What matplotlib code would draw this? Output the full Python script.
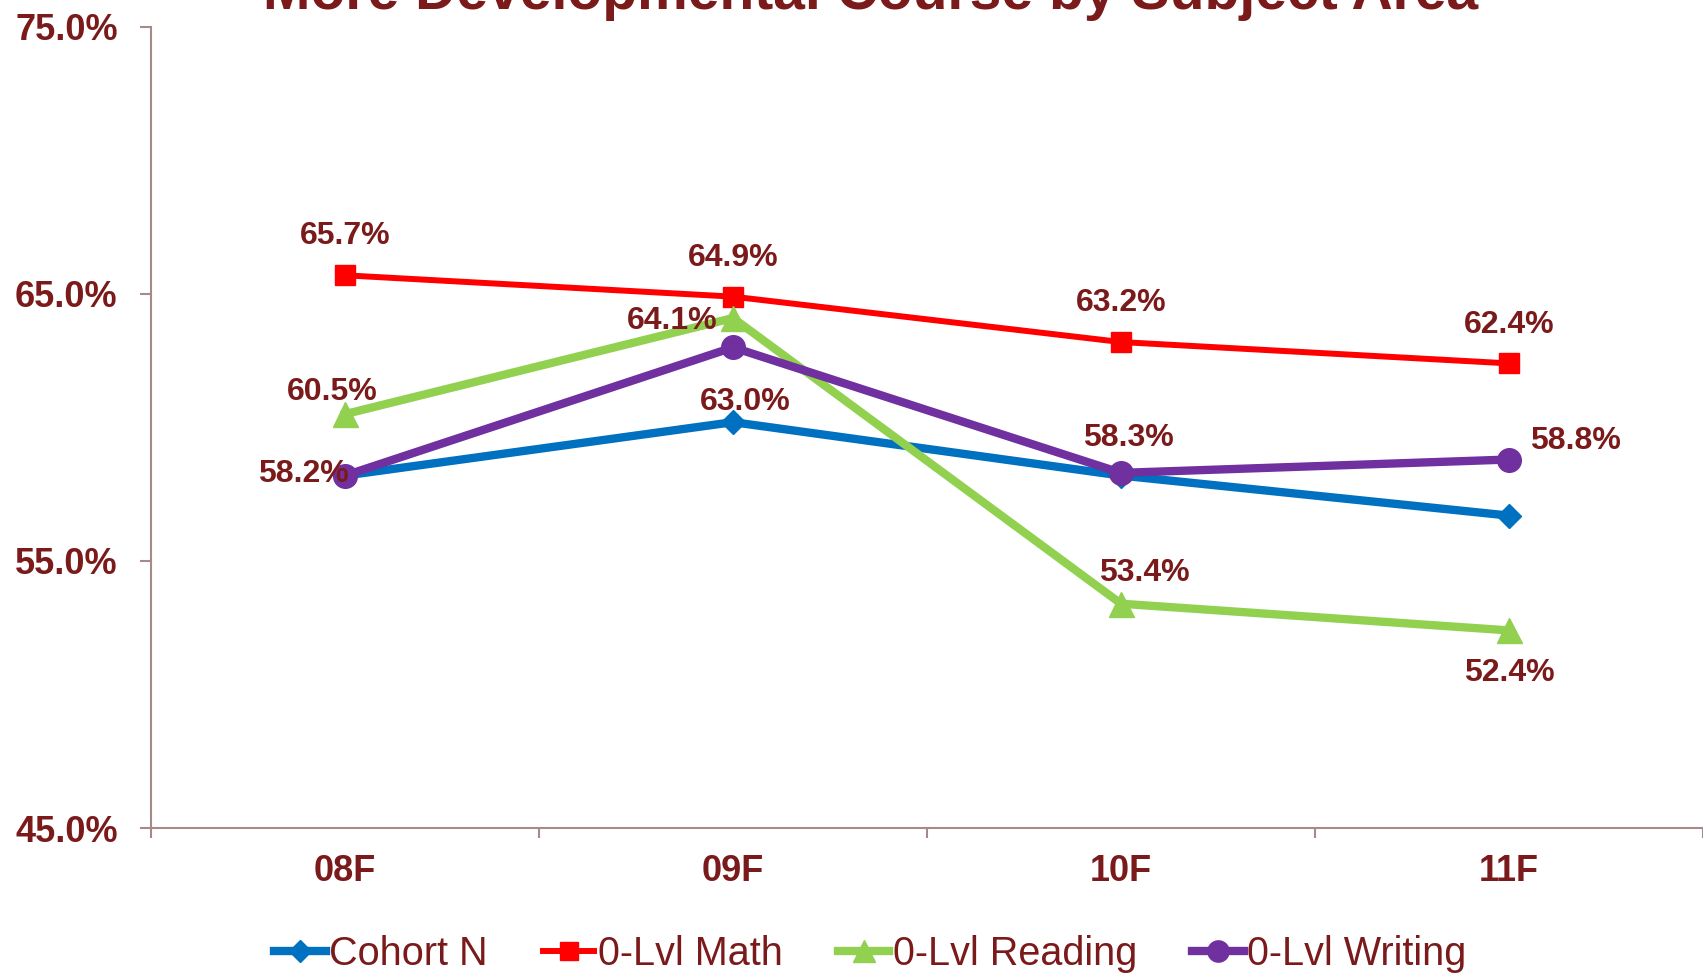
import matplotlib.pyplot as plt
from matplotlib.ticker import FixedLocator

plt.rcParams['font.family'] = ['Liberation Sans', 'DejaVu Sans']

# data
terms = ['08F', '09F', '10F', '11F']
cohort_n = [58.2, 60.2, 58.2, 56.7]
math_0 = [65.7, 64.9, 63.2, 62.4]
reading_0 = [60.5, 64.1, 53.4, 52.4]
writing_0 = [58.2, 63.0, 58.3, 58.8]
y_ticks = [45, 55, 65, 75]

# label offsets in points (dx, dy) for the data labels
math_offsets = [(0, 28), (0, 28), (0, 28), (0, 28)]
reading_offsets = [(-9, 16), (-44, -2), (17, 22), (0, -31)]
writing_offsets = [(-30, 1), (9, -39), (5, 25), (48, 13)]

txt_col = '#7A1A1A'
axis_col = '#A68A8A'

fig = plt.figure(figsize=(17.03, 9.77), dpi=100)
ax = fig.add_axes([0.0887, 0.1525, 0.9113, 0.8199])

x = list(range(len(terms)))
ax.plot(x, cohort_n, color='#0070C0', lw=6, marker='D', ms=12.5, label='Cohort N')
ax.plot(x, math_0, color='#FF0000', lw=4.3, marker='s', ms=15, label='0-Lvl Math')
ax.plot(x, reading_0, color='#92D050', lw=6, marker='^', ms=18, label='0-Lvl Reading')
ax.plot(x, writing_0, color='#7030A0', lw=6, marker='o', ms=17, label='0-Lvl Writing')


def add_labels(vals, offsets):
    for i, v in enumerate(vals):
        ax.annotate(f'{v:.1f}%', (i, v), xytext=offsets[i], textcoords='offset points',
                    ha='center', va='center', fontsize=23, fontweight='bold', color=txt_col)


add_labels(math_0, math_offsets)
add_labels(reading_0, reading_offsets)
add_labels(writing_0, writing_offsets)

ax.set_xlim(-0.5, 3.5)
ax.set_ylim(45, 75)
ax.set_yticks(y_ticks)
ax.set_yticklabels([f'{t:.1f}%' for t in y_ticks])
ax.set_xticks(x)
ax.set_xticklabels(terms)
ax.xaxis.set_minor_locator(FixedLocator([-0.5, 0.5, 1.5, 2.5, 3.5]))

for s in ['top', 'right']:
    ax.spines[s].set_visible(False)
for s in ['left', 'bottom']:
    ax.spines[s].set_color(axis_col)
    ax.spines[s].set_linewidth(1.5)

ax.tick_params(axis='x', which='major', length=0, pad=19, labelsize=26, labelcolor=txt_col)
ax.tick_params(axis='x', which='minor', length=7.5, width=1.5, color=axis_col, direction='out')
ax.tick_params(axis='y', length=8, width=1.5, color=axis_col, pad=16, labelsize=26,
               labelcolor=txt_col)
for lbl in ax.get_xticklabels() + ax.get_yticklabels():
    lbl.set_fontweight('bold')

fig.text(0.511, 0.9905, 'More Developmental Course by Subject Area', ha='center', va='baseline',
         fontsize=41, fontweight='bold', color=txt_col)

leg = fig.legend(loc='center', bbox_to_anchor=(0.511, 0.0235), ncol=4, frameon=False,
                 fontsize=28.5, handlelength=1.3, handletextpad=0.08, columnspacing=1.4,
                 markerscale=0.9, borderaxespad=0)
for t in leg.get_texts():
    t.set_color(txt_col)

fig.savefig('out.png', dpi=100)
